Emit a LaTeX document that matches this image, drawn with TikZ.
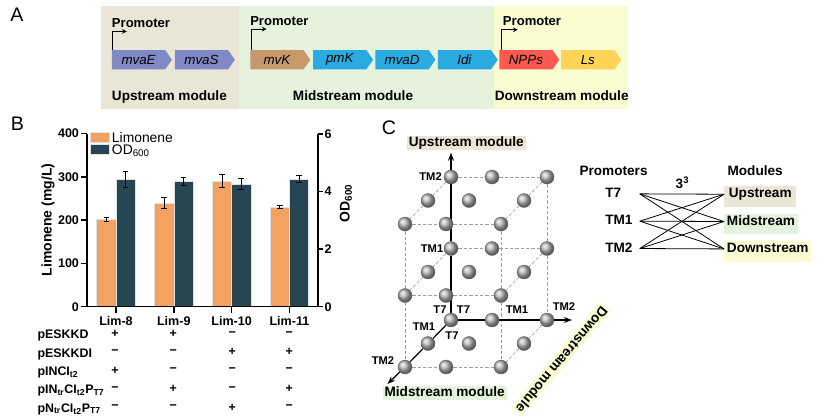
\documentclass[tikz,border=0pt]{standalone}
\usepackage{fontspec}
\setmainfont{Liberation Sans}
\usepackage{tikz}
\usetikzlibrary{arrows.meta,positioning,shapes.symbols,backgrounds}

\definecolor{upbg}{RGB}{233,230,214}
\definecolor{midbg}{RGB}{229,242,220}
\definecolor{downbg}{RGB}{248,252,208}
\definecolor{lavgene}{RGB}{129,136,198}
\definecolor{tangene}{RGB}{198,152,106}
\definecolor{bluegene}{RGB}{41,171,226}
\definecolor{redgene}{RGB}{252,90,80}
\definecolor{yelgene}{RGB}{254,212,86}
\definecolor{limcol}{RGB}{244,162,97}
\definecolor{odcol}{RGB}{38,70,83}

\begin{document}
\begin{tikzpicture}[
    x=0.75pt, y=-0.75pt,
    panel/.style={font=\fontsize{14.7}{17}\selectfont, inner sep=0pt},
    promtext/.style={font=\bfseries\fontsize{9.8}{12}\selectfont, inner sep=0pt, anchor=base west},
    modtext/.style={font=\bfseries\fontsize{10.2}{12}\selectfont, inner sep=0pt},
    gene/.style={signal, signal to=east, signal from=nowhere, signal pointer angle=110,
        fill=#1, minimum width=45pt, minimum height=14.5pt, inner sep=0pt,
        font=\itshape\fontsize{10}{12}\selectfont},
    promarrow/.style={-{Stealth[length=3.5pt, width=3.5pt]}, line width=0.8pt},
    limbar/.style={fill=limcol, draw=black!12, line width=0.4pt},
    odbar/.style={fill=odcol, draw=black!12, line width=0.4pt},
    errbar/.style={line width=0.6pt},
    axisline/.style={line width=1.1pt},
    ticklab/.style={font=\bfseries\fontsize{9.4}{11}\selectfont, inner sep=1.2pt},
    axislab/.style={font=\bfseries\fontsize{10.5}{12}\selectfont, inner sep=0pt},
    legtext/.style={font=\fontsize{10.4}{12}\selectfont, inner sep=0pt, anchor=base west},
    rowlab/.style={font=\bfseries\fontsize{9.3}{11}\selectfont, inner sep=0pt, anchor=base west},
    sign/.style={font=\bfseries\fontsize{9.3}{11}\selectfont, inner sep=0pt},
    bead/.style={circle, minimum size=10.5pt, inner sep=0pt, shade, ball color=gray!55, draw=black!60, line width=0.3pt},
    gridline/.style={gray!75, line width=0.5pt, dash pattern=on 2.5pt off 1.5pt},
    cubeaxis/.style={-{Stealth[length=6pt, width=4.5pt]}, line width=0.9pt},
    cubelab/.style={font=\bfseries\fontsize{8.4}{10}\selectfont, inner sep=0pt},
    tag/.style={font=\bfseries\fontsize{10.2}{12}\selectfont, inner xsep=1.5pt, inner ysep=0.4pt, text height=7.4pt, text depth=2.2pt},
    link/.style={line width=0.6pt}
]
    \useasboundingbox (0,0) rectangle (836,419);

    % ---------------- Panel A ----------------
    \fill[upbg] (100.7,6) rectangle (239.3,109.3);
    \fill[midbg] (239.3,6) rectangle (494,109.3);
    \fill[downbg] (494,6) rectangle (628.3,109.3);
    \node[panel] (lblA) at (17,15) {A};

    % Genes
    \node[gene=lavgene, anchor=west] (mvaE) at (111.7,59.7) {mvaE};
    \node[gene=lavgene, right=1.7pt of mvaE] (mvaS) {mvaS};
    \node[gene=tangene, anchor=west] (mvK) at (250,59.7) {mvK};
    \node[gene=bluegene, right=1.7pt of mvK] (pmK) {pmK};
    \node[gene=bluegene, right=1.3pt of pmK] (mvaD) {mvaD};
    \node[gene=bluegene, right=1.3pt of mvaD] (Idi) {Idi};
    \node[gene=redgene, anchor=west] (NPPs) at (499,59.7) {NPPs};
    \node[gene=yelgene, right=1pt of NPPs] (Ls) {Ls};

    % Promoters
    \node[promtext] (promU) at (111.7,27.3) {Promoter};
    \node[promtext] (promM) at (250,25) {Promoter};
    \node[promtext] (promD) at (502.7,25) {Promoter};
    \draw[promarrow] ([xshift=0.8pt]mvaE.north west) |- ++(14,-18.3);
    \draw[promarrow] ([xshift=1.2pt]mvK.north west) |- ++(15,-20.7);
    \draw[promarrow] ([xshift=2pt]NPPs.north west) |- ++(16,-20);

    % Module names
    \node[modtext, anchor=base west] (modU) at (111.7,100) {Upstream module};
    \node[modtext, anchor=base] (modM) at (353,100) {Midstream module};
    \node[modtext, anchor=base] (modD) at (561.7,100) {Downstream module};

    % ---------------- Panel B ----------------
    \node[panel] (lblB) at (17.5,124) {B};

    % Bars with error bars
    \foreach \i/\lim/\lerr/\od/\oerr in {0/202/4/4.43/0.27, 1/240/12/4.37/0.14, 2/290/15/4.26/0.2, 3/230/3.5/4.43/0.12}{
        \pgfmathsetmacro\cx{116+57.8*\i}
        \pgfmathsetmacro\ltop{306.7-0.433*\lim}
        \pgfmathsetmacro\otop{306.7-28.78*\od}
        \pgfmathsetmacro\lhi{0.433*\lerr}
        \pgfmathsetmacro\ohi{28.78*\oerr}
        \filldraw[limbar] (\cx-19.3,306.7) rectangle (\cx,\ltop);
        \filldraw[odbar] (\cx,306.7) rectangle (\cx+19.3,\otop);
        \draw[errbar] (\cx-9.65,\ltop-\lhi) -- (\cx-9.65,\ltop+\lhi)
            (\cx-12.45,\ltop-\lhi) -- (\cx-6.85,\ltop-\lhi)
            (\cx-12.45,\ltop+\lhi) -- (\cx-6.85,\ltop+\lhi);
        \draw[errbar] (\cx+9.65,\otop-\ohi) -- (\cx+9.65,\otop+\ohi)
            (\cx+6.85,\otop-\ohi) -- (\cx+12.45,\otop-\ohi)
            (\cx+6.85,\otop+\ohi) -- (\cx+12.45,\otop+\ohi);
    }

    % Axes
    \draw[axisline] (87,134) -- (87,306.7) -- (318,306.7) -- (318,134);
    \foreach \v in {0,100,200,300,400}
        \draw[axisline] (87,306.7-0.433*\v) -- ++(-5.7,0) node[ticklab, left] {\v};
    \foreach \v in {0,2,4,6}
        \draw[axisline] (318,306.7-28.78*\v) -- ++(5,0) node[ticklab, right, inner sep=0.6pt] {\v};
    \foreach \i/\name in {0/Lim-8,1/Lim-9,2/Lim-10,3/Lim-11}{
        \draw[axisline] (116+57.8*\i,306.7) -- ++(0,6.3);
        \node[ticklab] (lim\i) at (116+57.8*\i,321) {\name};
    }
    \node[axislab, rotate=90] (ylab) at (48,220) {Limonene (mg/L)};
    \node[axislab, rotate=90] (y2lab) at (346,203) {OD\textsubscript{600}};

    % Legend
    \filldraw[limbar] (90.7,132.3) rectangle (109.3,142.3);
    \filldraw[odbar] (90.7,144.3) rectangle (109.3,154.3);
    \node[legtext] (legLim) at (111.7,142.3) {Limonene};
    \node[legtext] (legOD) at (111.7,154.3) {OD\textsubscript{600}};

    % Plasmid table
    \node[rowlab] (r1) at (37.3,338.7) {pESKKD};
    \node[rowlab] (r2) at (37.3,357.1) {pESKKDI};
    \node[rowlab] (r3) at (37.3,375.1) {pINCI\textsubscript{t2}};
    \node[rowlab] (r4) at (37.3,393.7) {pIN\textsubscript{tr}CI\textsubscript{t2}P\textsubscript{T7}};
    \node[rowlab] (r5) at (37.3,412.1) {pN\textsubscript{tr}CI\textsubscript{t2}P\textsubscript{T7}};
    \foreach \y/\a/\b/\c/\d [count=\r] in {333.8/+/+/−/−, 352.2/−/−/+/+, 370.5/+/−/−/−, 389/−/+/−/+, 407.5/−/−/+/−}{
        \node[sign] (s\r a) at (115,\y) {\a};
        \node[sign] (s\r b) at (173.3,\y) {\b};
        \node[sign] (s\r c) at (232.3,\y) {\c};
        \node[sign] (s\r d) at (289.3,\y) {\d};
    }

    % ---------------- Panel C ----------------
    \node[panel] (lblC) at (389,128) {C};

    % Spheres: b<down><up><mid>
    \foreach \m in {0,1,2}
        \foreach \u in {0,1,2}
            \foreach \d/\dx in {0/0,1/41,2/96}
                \node[bead] (b\d\u\m) at ({451+\dx-23*\m},{320-71.5*\u+23.5*\m}) {};

    \coordinate (uptip) at (451,152.7);
    \coordinate (downtip) at (572,320);
    \coordinate (midtip) at (387.5,384);

    \begin{scope}[on background layer]
        % dashed frame
        \draw[gridline] (b020) -- (b120) -- (b220);
        \draw[gridline] (b010) -- (b110) -- (b210);
        \draw[gridline] (b220) -- (b210) -- (b200);
        \foreach \u in {0,1,2}
            \draw[gridline] (b0\u2) -- (b1\u2) -- (b2\u2);
        \draw[gridline] (b022) -- (b012) -- (b002);
        \draw[gridline] (b222) -- (b212) -- (b202);
        \draw[gridline] (b020) -- (b021) -- (b022);
        \draw[gridline] (b010) -- (b011) -- (b012);
        \foreach \u in {0,1,2}
            \draw[gridline] (b2\u0) -- (b2\u1) -- (b2\u2);
        % axes
        \draw[cubeaxis] (b000) -- (b010) -- (b020) -- (uptip);
        \draw[cubeaxis] (b000) -- (b100) -- (b200) -- (downtip);
        \draw[cubeaxis] (b000) -- (b001) -- (b002) -- (midtip);
    \end{scope}

    % Level labels
    \node[cubelab, anchor=east] (lu2) at (442,177) {TM2};
    \node[cubelab, anchor=east] (lu1) at (443.5,248.3) {TM1};
    \node[cubelab] (lu0) at (440,309.3) {T7};
    \node[cubelab] (ld0) at (463.5,309.3) {T7};
    \node[cubelab] (ld1) at (517,309.3) {TM1};
    \node[cubelab] (ld2) at (564,306.7) {TM2};
    \node[cubelab] (lm0) at (452,336) {T7};
    \node[cubelab] (lm1) at (424,326.7) {TM1};
    \node[cubelab] (lm2) at (383,360.5) {TM2};

    % Axis names
    \node[tag, fill=upbg] (axU) at (466.3,143.3) {Upstream module};
    \node[tag, fill=midbg] (axM) at (444.7,393.3) {Midstream module};
    \node[tag, fill=downbg, rotate=-130] (axD) at (561,359) {Downstream module};

    % Promoters x modules
    \node[modtext, anchor=west] (hP) at (579.3,170.7) {Promoters};
    \node[modtext, anchor=west] (hM) at (727.3,170.7) {Modules};
    \node[modtext] (n33) at (682.5,183) {3\textsuperscript{3}};
    \node[modtext, anchor=west, text width=25.7pt, align=left] (pT7) at (605,192.7) {T7};
    \node[modtext, anchor=west, text width=25.7pt, align=left] (pTM1) at (605,220) {TM1};
    \node[modtext, anchor=west, text width=25.7pt, align=left] (pTM2) at (605,247.3) {TM2};
    \node[modtext, fill=upbg, anchor=north west, minimum width=54pt, inner xsep=2pt, text height=8.6pt, text depth=6.9pt] (mUp) at (724,186) {Upstream};
    \node[modtext, fill=midbg, anchor=north west, minimum width=54pt, inner xsep=2pt, text height=8.6pt, text depth=6.9pt] (mMid) at (724,213.3) {Midstream};
    \node[modtext, fill=downbg, anchor=north west, minimum width=54pt, inner xsep=2pt, text height=8.6pt, text depth=6.9pt] (mDown) at (724,240.7) {Downstream};
    \foreach \p in {pT7,pTM1,pTM2}
        \foreach \q in {mUp,mMid,mDown}
            \draw[link] (\p.mid east) -- (\q.mid west);
\end{tikzpicture}
\end{document}
